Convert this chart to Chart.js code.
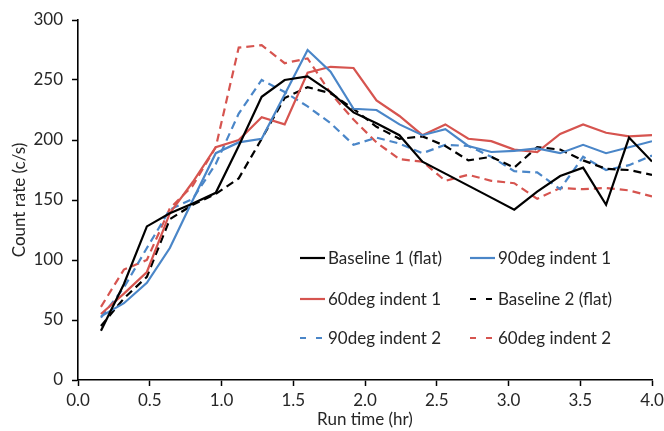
<!DOCTYPE html>
<html>
<head>
<meta charset="utf-8">
<script src="https://cdn.jsdelivr.net/npm/chart.js@4"></script>
<style>
  html, body { margin: 0; padding: 0; background: #fff; }
</style>
</head>
<body>
<canvas id="myChart" width="664" height="431"></canvas>
<script>
// run time (hr), one count every 0.16 hr
let runTimes = [0.16, 0.32, 0.48, 0.64, 0.80, 0.96, 1.12, 1.28, 1.44, 1.60, 1.76, 1.92, 2.08,
                2.24, 2.40, 2.56, 2.72, 2.88, 3.04, 3.20, 3.36, 3.52, 3.68, 3.84, 4.00];

// count rate (c/s)
let baseline1 = [41, 80, 128, 139, 147, 156, 195, 236, 250, 253, 240, 223, 214,
                 204, 182, 172, 162, 152, 142, 157, 170, 177, 146, 202, 182];
let indent90_1 = [53, 64, 81, 110, 150, 189, 198, 201, 238, 275, 257, 226, 225,
                  213, 204, 209, 195, 190, 191, 193, 189, 196, 189, 194, 199];
let indent60_1 = [55, 72, 90, 139, 165, 194, 200, 219, 213, 256, 261, 260, 233,
                  220, 204, 213, 201, 199, 192, 190, 205, 213, 206, 203, 204];
let baseline2 = [45, 68, 86, 134, 146, 155, 168, 201, 235, 244, 239, 226, 211,
                 201, 203, 195, 183, 186, 177, 194, 192, 183, 176, 175, 171];
let indent90_2 = [52, 77, 110, 142, 151, 180, 222, 250, 240, 228, 214, 196, 202,
                  197, 189, 196, 195, 186, 174, 173, 159, 186, 175, 179, 187];
let indent60_2 = [61, 92, 100, 143, 162, 194, 277, 279, 264, 268, 239, 217, 198,
                  184, 182, 166, 171, 166, 164, 151, 160, 159, 160, 158, 153];

let seriesNames = ['Baseline 1 (flat)', '90deg indent 1', '60deg indent 1',
                   'Baseline 2 (flat)', '90deg indent 2', '60deg indent 2'];
let seriesValues = [baseline1, indent90_1, indent60_1, baseline2, indent90_2, indent60_2];

let xTicks = [0, 0.5, 1, 1.5, 2, 2.5, 3, 3.5, 4];
let yTicks = [0, 50, 100, 150, 200, 250, 300];

const BLACK = '#000000';
const BLUE = '#4a86c8';
const RED = '#d6544f';
let seriesColors = [BLACK, BLUE, RED, BLACK, BLUE, RED];
let seriesDashed = [false, false, false, true, true, true];

const FONT = 'Lato, "Open Sans", sans-serif';
const TEXT = '#262626';
const DASH = [8, 5];

function makeDataset(i) {
  return {
    label: seriesNames[i],
    data: seriesValues[i].map((v, j) => ({x: runTimes[j], y: v})),
    borderColor: seriesColors[i],
    backgroundColor: seriesColors[i],
    borderWidth: 2.2,
    borderDash: seriesDashed[i] ? DASH : [],
    pointRadius: 0,
    tension: 0,
    fill: false
  };
}

// legend drawn inside the plot, two columns by three rows
const insideLegend = {
  id: 'insideLegend',
  afterDraw(chart) {
    let ctx = chart.ctx;
    let area = chart.chartArea;
    let colX = [area.left + 222, area.left + 392];
    let rowY = [area.top + 238, area.top + 279, area.top + 318];
    ctx.save();
    ctx.font = '17px ' + FONT;
    ctx.textBaseline = 'middle';
    ctx.fillStyle = TEXT;
    chart.data.datasets.forEach((ds, i) => {
      let x = colX[i % 2];
      let y = rowY[Math.floor(i / 2)];
      ctx.beginPath();
      ctx.strokeStyle = ds.borderColor;
      ctx.lineWidth = 2.2;
      ctx.setLineDash(ds.borderDash.length ? [6, 10] : []);
      ctx.moveTo(x, y);
      ctx.lineTo(x + 25, y);
      ctx.stroke();
      ctx.setLineDash([]);
      ctx.fillText(ds.label, x + 28, y + 1);
    });
    ctx.restore();
  }
};

let ctx = document.getElementById('myChart');
let myChart = new Chart(ctx, {
  type: 'line',
  data: {
    datasets: seriesValues.map((v, i) => makeDataset(i))
  },
  options: {
    responsive: false,
    animation: false,
    devicePixelRatio: 1,
    layout: { padding: { top: 20, right: 12, left: 0, bottom: 0 } },
    plugins: {
      legend: { display: false },
      tooltip: { enabled: false }
    },
    scales: {
      x: {
        type: 'linear',
        min: xTicks[0],
        max: xTicks[xTicks.length - 1],
        afterBuildTicks: axis => { axis.ticks = xTicks.map(v => ({value: v})); },
        afterFit: axis => { axis.height = 51; axis.paddingRight = 0; },
        ticks: {
          callback: v => v.toFixed(1),
          font: { family: FONT, size: 17 },
          color: TEXT,
          padding: 4,
          maxRotation: 0
        },
        grid: { drawOnChartArea: false, drawTicks: true, tickLength: 6, tickColor: BLACK, tickWidth: 1.5 },
        border: { display: true, color: BLACK, width: 1.6 },
        title: {
          display: true,
          text: 'Run time (hr)',
          font: { family: FONT, size: 17 },
          color: TEXT,
          padding: { top: 0, bottom: 1 }
        }
      },
      y: {
        min: yTicks[0],
        max: yTicks[yTicks.length - 1],
        afterBuildTicks: axis => { axis.ticks = yTicks.map(v => ({value: v})); },
        afterFit: axis => { axis.width = 78; },
        ticks: {
          font: { family: FONT, size: 17 },
          color: TEXT,
          padding: 9
        },
        grid: { drawOnChartArea: false, drawTicks: true, tickLength: 6, tickColor: BLACK, tickWidth: 1.5 },
        border: { display: true, color: BLACK, width: 1.6 },
        title: {
          display: true,
          text: 'Count rate (c/s)',
          font: { family: FONT, size: 17 },
          color: TEXT,
          padding: { top: 9, bottom: 0 }
        }
      }
    }
  },
  plugins: [insideLegend]
});
</script>
</body>
</html>
